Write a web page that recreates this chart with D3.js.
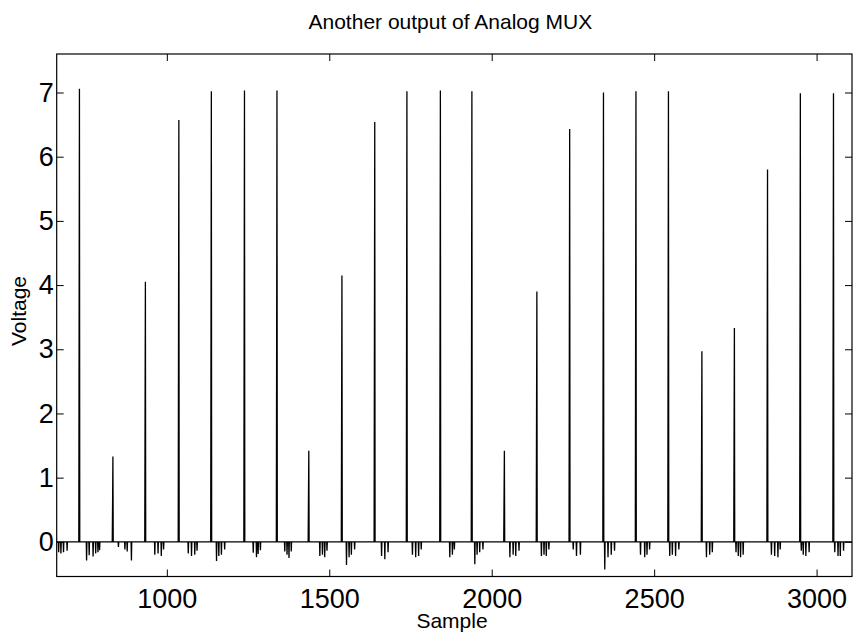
<!DOCTYPE html>
<html><head><meta charset="utf-8">
<script src="https://cdn.jsdelivr.net/npm/d3@7"></script>
<style>
body{margin:0;background:#fff}
svg{display:block}
text{font-family:"Liberation Sans",Arial,Helvetica,sans-serif;fill:#000}
</style>
</head><body>
<svg id="chart" width="855" height="633"></svg>
<script>
// ---- data ----
const titleText = "Another output of Analog MUX";
const xLabelText = "Sample";
const yLabelText = "Voltage";
const xTickValues = [1000, 1500, 2000, 2500, 3000];
const yTickValues = [0, 1, 2, 3, 4, 5, 6, 7];
const xDomain = [661, 3109];
const yDomain = [-0.54, 7.6];

// spike sample positions, peak voltage, intermediate (rising) voltage
const spikeSample = [730, 833, 933, 1036, 1136, 1238, 1338, 1436, 1538, 1639, 1738, 1841,
                     1938, 2038, 2138, 2239, 2343, 2443, 2543, 2646, 2746, 2848, 2949, 3051];
const spikePeak   = [7.06, 1.33, 4.05, 6.57, 7.02, 7.03, 7.03, 1.42, 4.15, 6.54, 7.02, 7.03,
                     7.02, 1.42, 3.90, 6.43, 7.00, 7.02, 7.02, 2.97, 3.33, 5.80, 6.99, 6.99];
const spikeMid    = [3.5, 0.6, 2.0, 3.3, 3.5, 3.5, 3.0, 0.7, 2.1, 3.3, 3.5, 3.5,
                     3.5, 0.7, 1.95, 3.2, 3.5, 3.5, 3.5, 1.5, 1.65, 2.9, 3.5, 3.5];

// small negative dips after each pulse
const dipSample = [667, 674, 682, 693,
  753, 761, 773, 781, 788, 793,
  851, 871, 878, 891,
  963, 973, 983, 990,
  1066, 1076, 1086, 1093,
  1153, 1160, 1168, 1178,
  1266, 1276, 1281, 1288,
  1363, 1370, 1376, 1383,
  1471, 1479, 1486, 1493,
  1553, 1561, 1568, 1578,
  1661, 1671, 1681,
  1756, 1766, 1775, 1783,
  1871, 1879, 1885,
  1948, 1955, 1963, 1973,
  2056, 2066, 2074, 2084,
  2153, 2161, 2168, 2176,
  2251, 2261, 2273,
  2348, 2358, 2368, 2378,
  2458, 2471, 2478, 2486,
  2548, 2556, 2566, 2576,
  2661, 2671, 2679,
  2752, 2759, 2766, 2774,
  2861, 2871, 2881, 2888,
  2953, 2959, 2967, 2977,
  3056, 3066, 3073, 3083];
const dipValue = [-0.16, -0.18, -0.16, -0.14,
  -0.29, -0.21, -0.23, -0.18, -0.16, -0.13,
  -0.08, -0.12, -0.15, -0.29,
  -0.20, -0.18, -0.22, -0.12,
  -0.18, -0.22, -0.20, -0.14,
  -0.30, -0.22, -0.20, -0.12,
  -0.17, -0.24, -0.19, -0.13,
  -0.15, -0.20, -0.25, -0.15,
  -0.22, -0.20, -0.24, -0.14,
  -0.36, -0.24, -0.20, -0.12,
  -0.22, -0.27, -0.16,
  -0.20, -0.24, -0.22, -0.12,
  -0.24, -0.20, -0.12,
  -0.35, -0.20, -0.16, -0.12,
  -0.24, -0.20, -0.22, -0.14,
  -0.22, -0.20, -0.22, -0.12,
  -0.12, -0.22, -0.20,
  -0.43, -0.24, -0.20, -0.14,
  -0.20, -0.24, -0.20, -0.12,
  -0.22, -0.20, -0.22, -0.12,
  -0.24, -0.20, -0.16,
  -0.16, -0.22, -0.24, -0.20,
  -0.20, -0.22, -0.24, -0.12,
  -0.14, -0.20, -0.22, -0.16,
  -0.16, -0.22, -0.22, -0.14];

// ---- layout ----
const W = 855, H = 633;
const plot = {left: 56.7, right: 852, top: 54, bottom: 576.5};
const svg = d3.select("#chart");

const x = d3.scaleLinear().domain(xDomain).range([plot.left, plot.right]);
const y = d3.scaleLinear().domain(yDomain).range([plot.bottom, plot.top]);

// build the signal as a sample sequence
let pts = [[xDomain[0], 0]];
spikeSample.forEach((s, i) => {
  pts.push([s - 1, 0], [s, spikeMid[i]], [s + 1, spikePeak[i]], [s + 2, 0]);
});
dipSample.forEach((d, i) => {
  pts.push([d - 1, 0], [d, dipValue[i]], [d + 1, 0]);
});
pts.push([xDomain[1], 0]);
pts.sort((a, b) => a[0] - b[0]);

svg.append("defs").append("clipPath").attr("id", "clip")
  .append("rect").attr("x", plot.left).attr("y", plot.top)
  .attr("width", plot.right - plot.left).attr("height", plot.bottom - plot.top);

const line = d3.line().x(d => x(d[0])).y(d => y(d[1]));
svg.append("path")
  .datum(pts)
  .attr("clip-path", "url(#clip)")
  .attr("fill", "none")
  .attr("stroke", "#000")
  .attr("stroke-width", 1.3)
  .attr("d", line);

// ---- axes (MATLAB box style, ticks inward on all sides) ----
const tickLen = 7;
const axBottom = d3.axisBottom(x).tickValues(xTickValues).tickSize(-tickLen).tickPadding(tickLen + 5).tickFormat(d3.format("d"));
const axTop = d3.axisTop(x).tickValues(xTickValues).tickSize(-tickLen).tickFormat("");
const axLeft = d3.axisLeft(y).tickValues(yTickValues).tickSize(-tickLen).tickPadding(tickLen - 4).tickFormat(d3.format("d"));
const axRight = d3.axisRight(y).tickValues(yTickValues).tickSize(-tickLen).tickFormat("");

function style(g) {
  g.select(".domain").remove();
  g.selectAll(".tick line").attr("stroke", "#000").attr("stroke-width", 1);
  g.selectAll(".tick text").attr("font-family", '"Liberation Sans", Arial, sans-serif').attr("fill", "#000");
}
const gb = svg.append("g").attr("transform", `translate(0,${plot.bottom})`).call(axBottom).call(style);
gb.selectAll(".tick text").attr("font-size", 27).attr("dy", "0.71em");
svg.append("g").attr("transform", `translate(0,${plot.top})`).call(axTop).call(style);
const gl = svg.append("g").attr("transform", `translate(${plot.left},0)`).call(axLeft).call(style);
gl.selectAll(".tick text").attr("font-size", 27);
svg.append("g").attr("transform", `translate(${plot.right},0)`).call(axRight).call(style);

// box
svg.append("rect")
  .attr("x", plot.left).attr("y", plot.top)
  .attr("width", plot.right - plot.left).attr("height", plot.bottom - plot.top)
  .attr("fill", "none").attr("stroke", "#000").attr("stroke-width", 1.2);

// ---- labels ----
svg.append("text").attr("x", (plot.left + plot.right) / 2 - 4).attr("y", 29)
  .attr("text-anchor", "middle").attr("font-size", 21).text(titleText);
svg.append("text").attr("x", 452).attr("y", 628)
  .attr("text-anchor", "middle").attr("font-size", 21).text(xLabelText);
svg.append("text").attr("transform", `translate(26,311) rotate(-90)`)
  .attr("text-anchor", "middle").attr("font-size", 21).text(yLabelText);
</script>
</body></html>
